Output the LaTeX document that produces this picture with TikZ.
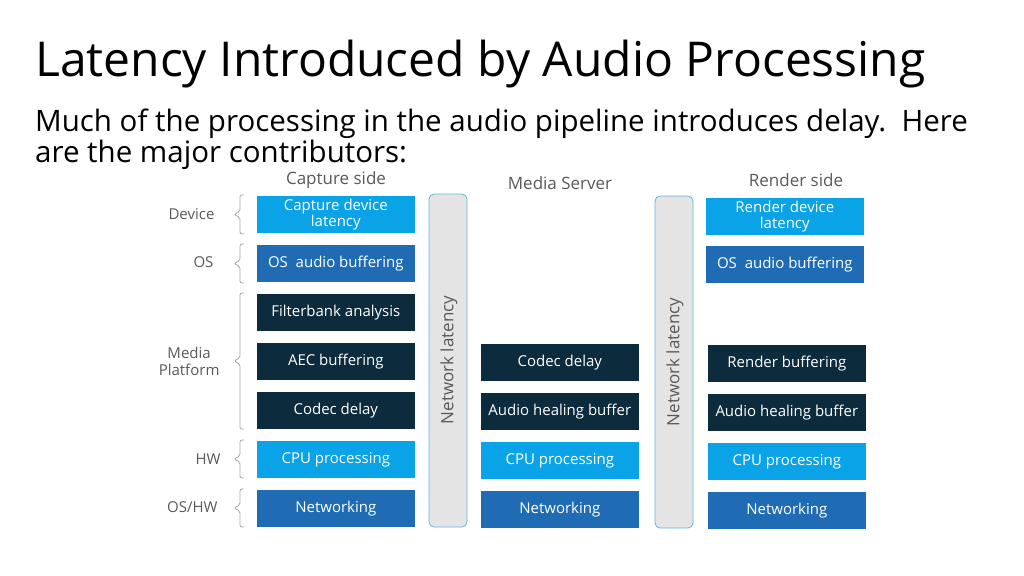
\documentclass[tikz,border=0pt]{standalone}
\usepackage{fontspec}
\setmainfont{Open Sans}
\usetikzlibrary{positioning}
\definecolor{lblue}{HTML}{0AA3E8}
\definecolor{mblue}{HTML}{1F6CB5}
\definecolor{navy}{HTML}{0C2B3D}
\definecolor{txtgray}{HTML}{595959}
\definecolor{bargray}{HTML}{E4E4E4}
\definecolor{barline}{HTML}{5CB8E6}
\tikzset{
  blk/.style={draw=white, line width=0.6pt, text=white, minimum width=159pt, minimum height=38pt,
    align=center, font=\fontsize{15}{16}\selectfont, inner sep=1pt},
  lb/.style={blk, fill=lblue},
  mb/.style={blk, fill=mblue},
  nb/.style={blk, fill=navy},
  netbar/.style={draw=barline, fill=bargray, rounded corners=5pt, line width=0.8pt},
  side/.style={text=txtgray, font=\fontsize{15}{17}\selectfont, align=center},
  head/.style={side, font=\fontsize{17}{19}\selectfont},
  brk/.style={draw=gray!70, line width=0.8pt, rounded corners=2pt},
}
\newcommand{\bracket}[3]{% x, top, bottom
  \draw[brk] (#1+8,#2) -- (#1+4,#2) -- (#1+4,{(#2+#3)/2-3}) -- (#1-2,{(#2+#3)/2}) -- (#1+4,{(#2+#3)/2+3}) -- (#1+4,#3) -- (#1+8,#3);}
\begin{document}
\begin{tikzpicture}[x=1pt,y=-1pt]
  \useasboundingbox (0,0) rectangle (1024,575);

  \node[anchor=base west, font=\fontsize{48}{50}\selectfont, text=black, inner sep=0] (title) at (35,77) {Latency Introduced by Audio Processing};
  \node[anchor=base west, font=\fontsize{29.5}{29}\selectfont, align=left, inner sep=0] (sub) at (35,162)
    {Much of the processing in the audio pipeline introduces delay.\ \ Here\\are the major contributors:};

  % column headers
  \node[head] (hcap) at (336,180) {Capture side};
  \node[head] (hmed) at (560,183) {Media Server};
  \node[head] (hren) at (796,180) {Render side};

  % capture side
  \node[lb, anchor=north west] (cdev) at (256,195) {Capture device\\latency};
  \node[mb, anchor=north west] (cos) at (256,244) {OS\ \ audio buffering};
  \node[nb, anchor=north west] (cfb) at (256,293) {Filterbank analysis};
  \node[nb, anchor=north west] (caec) at (256,342) {AEC buffering};
  \node[nb, anchor=north west] (ccod) at (256,391) {Codec delay};
  \node[lb, anchor=north west] (ccpu) at (256,440) {CPU processing};
  \node[mb, anchor=north west] (cnet) at (256,489) {Networking};

  % media server
  \node[nb, anchor=north west] (mcod) at (480,343) {Codec delay};
  \node[nb, anchor=north west] (mheal) at (480,392) {Audio healing buffer};
  \node[lb, anchor=north west] (mcpu) at (480,441) {CPU processing};
  \node[mb, anchor=north west] (mnet) at (480,490) {Networking};

  % render side
  \node[lb, anchor=north west] (rdev) at (705,197) {Render device\\latency};
  \node[mb, anchor=north west] (ros) at (705,245) {OS\ \ audio buffering};
  \node[nb, anchor=north west] (rbuf) at (707,344) {Render buffering};
  \node[nb, anchor=north west] (rheal) at (707,393) {Audio healing buffer};
  \node[lb, anchor=north west] (rcpu) at (707,442) {CPU processing};
  \node[mb, anchor=north west] (rnet) at (707,491) {Networking};

  % network latency bars
  \draw[netbar] (429,194) rectangle (467,527);
  \node[head, rotate=90] (nl1) at (449,360) {Network latency};
  \draw[netbar] (655,196) rectangle (693,528);
  \node[head, rotate=90] (nl2) at (675,362) {Network latency};

  % layer labels
  \bracket{236}{195}{234}
  \node[side, anchor=east] (ldev) at (218,214) {Device};
  \bracket{236}{244}{283}
  \node[side, anchor=east] (los) at (217,262) {OS};
  \bracket{236}{293}{429}
  \node[side, anchor=east] (lmp) at (223,361) {Media\\Platform};
  \bracket{236}{440}{478}
  \node[side, anchor=east] (lhw) at (224,459) {HW};
  \bracket{236}{489}{527}
  \node[side, anchor=east] (loshw) at (221,507) {OS/HW};
\end{tikzpicture}
\end{document}
